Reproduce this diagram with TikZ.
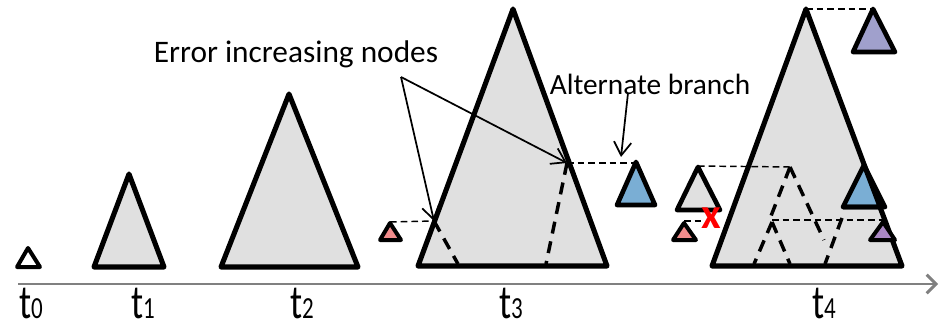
\documentclass[tikz,border=0pt]{standalone}
\usepackage{fontspec}
\setmainfont{Carlito}
\usetikzlibrary{arrows.meta,positioning}
\definecolor{treegray}{RGB}{224,224,224}
\definecolor{errred}{RGB}{242,140,140}
\definecolor{altblue}{RGB}{122,174,212}
\definecolor{altdark}{RGB}{31,78,121}
\definecolor{toppurple}{RGB}{160,160,204}
\definecolor{lowpurple}{RGB}{170,135,196}

\begin{document}
\begin{tikzpicture}[x=0.75pt, y=-0.75pt,
    tree/.style={draw, line width=3.8pt, line join=round, fill=treegray},
    subtree/.style={draw, line width=3pt, line join=round},
    link/.style={line width=1.1pt, dash pattern=on 5pt off 3pt},
    frame/.style={line width=2.6pt, dash pattern=on 9pt off 6pt},
    arrow/.style={-{Straight Barb[length=10pt,width=13pt]}, line width=1.3pt},
    time/.style={anchor=base, inner sep=0pt, font=\fontsize{36}{36}\selectfont},
    label/.style={inner sep=0pt}
]
\useasboundingbox (0,0) rectangle (941,331);

% time axis
\coordinate (ax0) at (18,284);
\coordinate (ax1) at (938,284);
\draw[gray, line width=2.2pt, -{Straight Barb[length=7pt,width=14pt]}] (ax0) -- (ax1);

\newcommand{\tsub}[1]{{\fontsize{23}{23}\selectfont #1}}
\node[time] (l0) at (31,318) {\scalebox{0.75}[1]{t\tsub{0}}};
\node[time] (l1) at (143,318) {\scalebox{0.75}[1]{t\tsub{1}}};
\node[time] (l2) at (302,318) {\scalebox{0.75}[1]{t\tsub{2}}};
\node[time] (l3) at (511,318) {\scalebox{0.75}[1]{t\tsub{3}}};
\node[time] (l4) at (824,318) {\scalebox{0.75}[1]{t\tsub{4}}};

% t0 .. t2
\draw[subtree, fill=white] (28,248) -- (17,267) -- (40,267) -- cycle;
\draw[tree] (129,174) -- (94,267) -- (164,267) -- cycle;
\draw[tree] (289,94) -- (221,267) -- (358,267) -- cycle;

% t3
\draw[tree] (513,9) -- (418,266) -- (607,266) -- cycle;
\coordinate (e1) at (434,221);
\coordinate (e2) at (567,163);
\draw[frame] (e1) -- (458,264);
\draw[frame] (e2) -- (546,264);
\draw[subtree, fill=errred] (390,223) -- (380,240) -- (401,240) -- cycle;
\coordinate (r3) at (390,222);
\draw[link] (r3) -- (e1);
\draw[subtree, line width=3.5pt, fill=altblue] (636,162) -- (617,205) -- (655,205) -- cycle;
\coordinate (b3) at (636,163);
\draw[link] (e2) -- (b3);

% t4
\draw[tree] (806,9) -- (712,266) -- (902,266) -- cycle;
\coordinate (top4) at (806,9);
\coordinate (p4) at (873,9);
\draw[subtree, line width=3.5pt, fill=toppurple] (p4) -- (853,52) -- (895,52) -- cycle;
\draw[link] (top4) -- (p4);
\coordinate (g4) at (698,166);
\coordinate (fa) at (790,167);
\draw[subtree, line width=3.5pt, fill=treegray] (698,167) -- (677,210) -- (720,210) -- cycle;
\draw[link] (g4) -- (fa);
\draw[frame] (fa) -- (771,216);
\draw[frame] (fa) -- (824,240);
\coordinate (fb) at (772,220);
\draw[frame] (772,222) -- (754,264);
\draw[frame] (772,222) -- (790,264);
\draw[frame] (842,218) -- (825,264);
\coordinate (s4) at (883,220);
\draw[link] (fb) -- (s4);
\draw[subtree, fill=lowpurple] (883,222) -- (870,240) -- (895,240) -- cycle;
\fill[altdark] (864,165) -- (885,207) -- (877,207) -- cycle;
\draw[subtree, line width=3.5pt, fill=altblue] (864,165) -- (843,207) -- (880,207) -- cycle;
\draw[subtree, line width=3.5pt] (864,165) -- (885,207) -- (843,207);
\draw[subtree, fill=errred] (684,223) -- (673,240) -- (696,240) -- cycle;
\coordinate (r4) at (684,221);
\coordinate (x4) at (703,221);
\draw[link] (r4) -- (x4);
\node[label, text=red, font=\bfseries\fontsize{32}{32}\selectfont] (cut) at (711,218) {x};

% labels
\node[label, font=\fontsize{23.5}{23.5}\selectfont] (err) at (296,54) {Error increasing nodes};
\node[label, font=\fontsize{22}{22}\selectfont] (alt) at (650,84) {Alternate branch};
\coordinate (errfrom) at (401,77);
\draw[arrow] (errfrom) -- (e1);
\draw[arrow] (errfrom) -- (e2);
\coordinate (altfrom) at (628,93);
\draw[arrow] (altfrom) -- (621,157);

\end{tikzpicture}
\end{document}
